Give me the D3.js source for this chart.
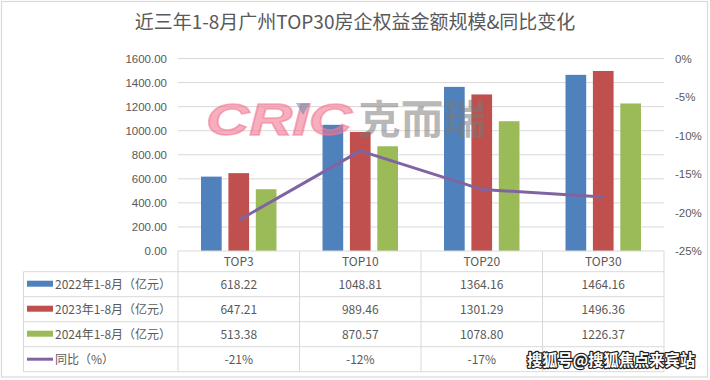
<!DOCTYPE html>
<html><head><meta charset="utf-8">
<script src="https://cdn.jsdelivr.net/npm/d3@7"></script>
<style>
html,body{margin:0;padding:0;background:#fff;}
svg{display:block;font-family:"Noto Sans CJK SC","Noto Sans",sans-serif;}
</style></head>
<body>
<svg id="chart" width="710" height="380"></svg>
<script>
const title = "近三年1-8月广州TOP30房企权益金额规模&同比变化";
const categories = ["TOP3", "TOP10", "TOP20", "TOP30"];
const seriesNames = ["2022年1-8月（亿元）", "2023年1-8月（亿元）", "2024年1-8月（亿元）"];
const values2022 = [618.22, 1048.81, 1364.16, 1464.16];
const values2023 = [647.21, 989.46, 1301.29, 1496.36];
const values2024 = [513.38, 870.57, 1078.80, 1226.37];
const yoyName = "同比（%）";
const yoyValues = [-21, -12, -17, -18];
// the TOP30 yoy cell is hidden under the site watermark in the reference
const yoyShown = [true, true, true, false];
const leftTicks = [0, 200, 400, 600, 800, 1000, 1200, 1400, 1600];
const rightTicks = [0, -5, -10, -15, -20, -25];

const colors = ["#4f81bd", "#c0504d", "#9bbb59"];
const lineColor = "#8064a2";
const textColor = "#595959";
const gridColor = "#d9d9d9";

const svg = d3.select("#chart");
const L = 178, R = 664, T = 58.5, B = 251;
const tableLeft = 23.5;
const rowH = 25;
const headerBottom = 271.7;

svg.append("rect").attr("x", 1.5).attr("y", 1.5).attr("width", 706).attr("height", 375.5)
  .attr("fill", "#fff").attr("stroke", gridColor).attr("stroke-width", 1.2);

svg.append("text").attr("x", 355).attr("y", 29).attr("text-anchor", "middle")
  .attr("font-size", 19).attr("fill", textColor).text(title);

const x = d3.scaleBand().domain(categories).range([L, R]).padding(0);
const xs = d3.scaleBand().domain(d3.range(3)).range([0, x.bandwidth()])
  .paddingInner(0.245).paddingOuter(0.84);
const y = d3.scaleLinear().domain([0, 1600]).range([B, T]);
const y2 = d3.scaleLinear().domain([-25, 0]).range([B, T]);

svg.append("g").selectAll("line").data(leftTicks.filter(d => d > 0)).join("line")
  .attr("x1", L).attr("x2", R).attr("y1", d => y(d)).attr("y2", d => y(d))
  .attr("stroke", gridColor).attr("stroke-width", 1);

const yAxis = d3.axisLeft(y).tickValues(leftTicks).tickFormat(d3.format(".2f")).tickSize(0).tickPadding(11);
const ga = svg.append("g").attr("transform", `translate(${L},0)`).call(yAxis);
ga.select(".domain").remove();
ga.selectAll("text").attr("font-size", 11.5).attr("fill", textColor).attr("font-family", "inherit");

const y2Axis = d3.axisRight(y2).tickValues(rightTicks).tickFormat(d => d + "%").tickSize(0).tickPadding(11);
const gb = svg.append("g").attr("transform", `translate(${R},0)`).call(y2Axis);
gb.select(".domain").remove();
gb.selectAll("text").attr("font-size", 11.5).attr("fill", textColor).attr("font-family", "inherit");

const seriesVals = [values2022, values2023, values2024];
seriesVals.forEach((vals, si) => {
  svg.append("g").selectAll("rect").data(vals).join("rect")
    .attr("x", (d, i) => x(categories[i]) + xs(si))
    .attr("width", xs.bandwidth())
    .attr("y", d => y(d))
    .attr("height", d => y(0) - y(d))
    .attr("fill", colors[si]);
});

const line = d3.line().x((d, i) => x(categories[i]) + x.bandwidth() / 2).y(d => y2(d));
svg.append("path").datum(yoyValues).attr("d", line).attr("fill", "none")
  .attr("stroke", lineColor).attr("stroke-width", 3).attr("stroke-linejoin", "round");

const tbl = svg.append("g");
const rowsTop = headerBottom;
const nRows = 4;
const tableBottom = rowsTop + nRows * rowH;
tbl.append("line").attr("x1", L).attr("x2", R).attr("y1", B).attr("y2", B).attr("stroke", gridColor);
d3.range(nRows + 1).forEach(i => {
  tbl.append("line").attr("x1", tableLeft).attr("x2", R)
    .attr("y1", rowsTop + i * rowH).attr("y2", rowsTop + i * rowH).attr("stroke", gridColor);
});
tbl.append("line").attr("x1", tableLeft).attr("x2", tableLeft).attr("y1", rowsTop).attr("y2", tableBottom).attr("stroke", gridColor);
[L, ...categories.map(c => x(c) + x.bandwidth())].forEach(xx => {
  tbl.append("line").attr("x1", xx).attr("x2", xx).attr("y1", B).attr("y2", tableBottom).attr("stroke", gridColor);
});
tbl.selectAll("text.cat").data(categories).join("text").attr("class", "cat")
  .attr("x", d => x(d) + x.bandwidth() / 2).attr("y", (B + rowsTop) / 2 + 4.5)
  .attr("text-anchor", "middle").attr("font-size", 12).attr("fill", textColor).text(d => d);

const rowNames = [...seriesNames, yoyName];
const rowVals = [
  values2022.map(d => d3.format(".2f")(d)),
  values2023.map(d => d3.format(".2f")(d)),
  values2024.map(d => d3.format(".2f")(d)),
  yoyValues.map((d, i) => yoyShown[i] ? d + "%" : "")
];
rowNames.forEach((name, ri) => {
  const cy = rowsTop + ri * rowH + rowH / 2;
  if (ri < 3) {
    tbl.append("rect").attr("x", 27).attr("y", cy - 3.5).attr("width", 26).attr("height", 6).attr("fill", colors[ri]);
  } else {
    tbl.append("line").attr("x1", 27).attr("x2", 53).attr("y1", cy).attr("y2", cy)
      .attr("stroke", lineColor).attr("stroke-width", 3);
  }
  tbl.append("text").attr("x", 55).attr("y", cy + 4.5).attr("font-size", 12).attr("fill", textColor).text(name);
  tbl.selectAll(null).data(rowVals[ri].filter(d => d !== "").map(d => ({ d, i: rowVals[ri].indexOf(d) }))).join("text")
    .attr("x", o => x(categories[o.i]) + x.bandwidth() / 2).attr("y", cy + 4.5)
    .attr("text-anchor", "middle").attr("font-size", 12).attr("fill", textColor).text(o => o.d);
});

const wm = svg.append("g").attr("pointer-events", "none");
wm.append("text").attr("x", 206).attr("y", 135).attr("font-size", 44).attr("font-weight", 900)
  .attr("font-style", "italic").attr("font-family", "'Liberation Sans',Arial,sans-serif")
  .attr("textLength", 146).attr("lengthAdjust", "spacingAndGlyphs")
  .attr("fill", "#f27a95").attr("fill-opacity", 0.6).attr("stroke", "#f27a95").attr("stroke-opacity", 0.6)
  .attr("stroke-width", 1.5).text("CRIC");
wm.append("path").attr("d", "M296,103 L310,103 L303,115 Z").attr("fill", "#6f8fb0").attr("fill-opacity", 0.6);
wm.append("text").attr("x", 358).attr("y", 134).attr("font-size", 40).attr("font-weight", 700)
  .attr("textLength", 128).attr("lengthAdjust", "spacingAndGlyphs")
  .attr("fill", "#7a7a7a").attr("fill-opacity", 0.55).text("克而瑞");

svg.append("text").attr("x", 527).attr("y", 366).attr("font-size", 16).attr("font-weight", 700)
  .attr("textLength", 168).attr("lengthAdjust", "spacingAndGlyphs")
  .attr("fill", "#fff").attr("stroke", "#222").attr("stroke-width", 2.5)
  .attr("paint-order", "stroke").attr("stroke-linejoin", "round")
  .text("搜狐号@搜狐焦点来宾站");
</script>
</body></html>
